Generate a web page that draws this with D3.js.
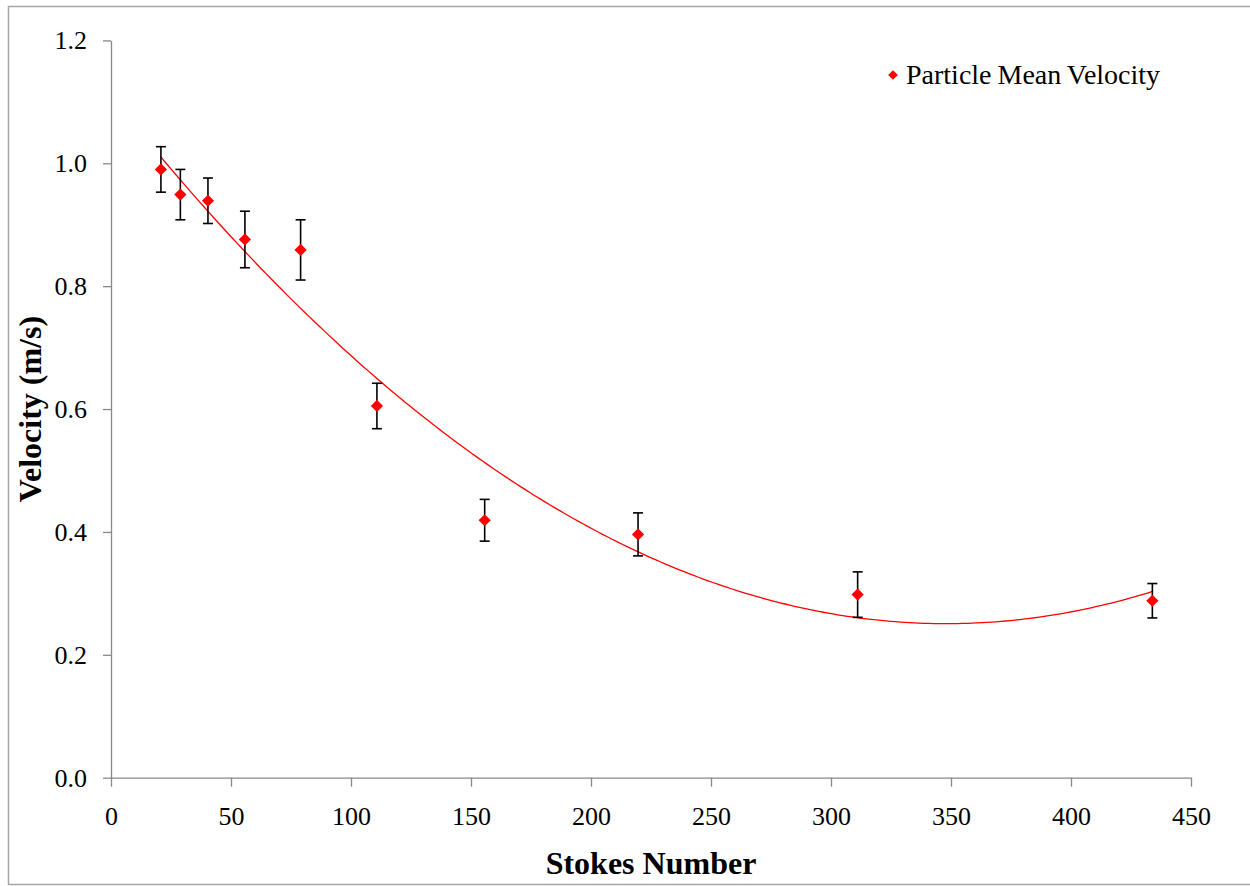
<!DOCTYPE html>
<html>
<head>
<meta charset="utf-8">
<script src="https://cdn.jsdelivr.net/npm/d3@7"></script>
<style>
  body { margin: 0; background: #fff; }
  text { font-family: "Times New Roman", "Liberation Serif", Times, serif; fill: #000; }
</style>
</head>
<body>
<svg id="chart" width="1250" height="886"></svg>
<script>
// data
var stokes   = [20.8, 28.9, 40.4, 55.8, 79.0, 110.8, 155.7, 219.6, 311.1, 433.9];
var velocity = [0.990, 0.949, 0.939, 0.876, 0.859, 0.605, 0.419, 0.396, 0.298, 0.288];
var errHalf  = [0.037, 0.041, 0.037, 0.046, 0.049, 0.037, 0.034, 0.035, 0.037, 0.028];
var xTicks = [0, 50, 100, 150, 200, 250, 300, 350, 400, 450];
var yTicks = [0.0, 0.2, 0.4, 0.6, 0.8, 1.0, 1.2];
var seriesName = "Particle Mean Velocity";

var svg = d3.select("#chart");
var axisColor = "#898989";
var serif = "'Times New Roman', 'Liberation Serif', Times, serif";

// outer chart frame
svg.append("rect")
    .attr("x", 8.5).attr("y", 6.5)
    .attr("width", 1260).attr("height", 878)
    .style("fill", "none").style("stroke", "#a6a6a6").style("stroke-width", 1.5);

var x = d3.scaleLinear().domain([0, 450]).range([111, 1191]);
var y = d3.scaleLinear().domain([0, 1.2]).range([777.7, 40.4]);

// axes
var xAxis = svg.append("g")
    .attr("transform", "translate(0," + y(0) + ")")
    .call(d3.axisBottom(x).tickValues(xTicks).tickSize(9).tickSizeOuter(0).tickPadding(20).tickFormat(d3.format("d")));
var yAxis = svg.append("g")
    .attr("transform", "translate(" + x(0) + ",0)")
    .call(d3.axisLeft(y).tickValues(yTicks).tickSize(8).tickSizeOuter(0).tickPadding(16).tickFormat(d3.format(".1f")));

[xAxis, yAxis].forEach(function(a) {
    a.attr("font-family", serif);
    a.select(".domain").style("stroke", axisColor).style("stroke-width", 1.3);
    a.selectAll(".tick line").style("stroke", axisColor).style("stroke-width", 1.3);
    a.selectAll(".tick text")
        .attr("font-family", serif)
        .style("font-family", serif)
        .style("font-size", "26px")
        .style("fill", "#000");
});

// axis titles
svg.append("text")
    .attr("x", (x(0) + x(450)) / 2).attr("y", 874)
    .attr("text-anchor", "middle")
    .style("font-family", serif)
    .style("font-size", "32px").style("font-weight", "bold")
    .text("Stokes Number");
svg.append("text")
    .attr("transform", "translate(41," + (y(0) + y(1.2)) / 2 + ") rotate(-90)")
    .attr("text-anchor", "middle")
    .style("font-family", serif)
    .style("font-size", "32px").style("font-weight", "bold")
    .text("Velocity (m/s)");

// 2nd order polynomial trendline (least squares, like the spreadsheet does)
function polyFit2(xs, ys) {
    var n = xs.length, s = [0, 0, 0, 0, 0], t = [0, 0, 0];
    for (var i = 0; i < n; i++) {
        var p = 1;
        for (var k = 0; k < 5; k++) { s[k] += p; if (k < 3) t[k] += p * ys[i]; p *= xs[i]; }
    }
    var M = [[s[0], s[1], s[2], t[0]], [s[1], s[2], s[3], t[1]], [s[2], s[3], s[4], t[2]]];
    for (var c = 0; c < 3; c++) {
        for (var r = c + 1; r < 3; r++) {
            var f = M[r][c] / M[c][c];
            for (var j = c; j < 4; j++) M[r][j] -= f * M[c][j];
        }
    }
    var b = [0, 0, 0];
    for (var r2 = 2; r2 >= 0; r2--) {
        var sum = M[r2][3];
        for (var j2 = r2 + 1; j2 < 3; j2++) sum -= M[r2][j2] * b[j2];
        b[r2] = sum / M[r2][r2];
    }
    return b;
}
var coef = polyFit2(stokes, velocity);
var xs = d3.range(d3.min(stokes), d3.max(stokes), 2).concat([d3.max(stokes)]);
var line = d3.line()
    .x(function(d) { return x(d); })
    .y(function(d) { return y(coef[0] + coef[1] * d + coef[2] * d * d); });
svg.append("path")
    .datum(xs)
    .attr("d", line)
    .style("fill", "none").style("stroke", "#ff0000").style("stroke-width", 1.3);

var pts = stokes.map(function(s, i) { return { s: s, v: velocity[i], e: errHalf[i] }; });

// error bars
var eb = svg.append("g").selectAll("g.err")
    .data(pts).enter().append("g").attr("class", "err")
    .style("stroke", "#000").style("stroke-width", 1.6);
eb.append("line")
    .attr("x1", function(d) { return x(d.s); }).attr("x2", function(d) { return x(d.s); })
    .attr("y1", function(d) { return y(d.v + d.e); }).attr("y2", function(d) { return y(d.v - d.e); });
eb.append("line")
    .attr("x1", function(d) { return x(d.s) - 5; }).attr("x2", function(d) { return x(d.s) + 5; })
    .attr("y1", function(d) { return y(d.v + d.e); }).attr("y2", function(d) { return y(d.v + d.e); });
eb.append("line")
    .attr("x1", function(d) { return x(d.s) - 5; }).attr("x2", function(d) { return x(d.s) + 5; })
    .attr("y1", function(d) { return y(d.v - d.e); }).attr("y2", function(d) { return y(d.v - d.e); });

// markers
var diamond = d3.symbol().type(d3.symbolDiamond2).size(95);
svg.append("g").selectAll("path.pt")
    .data(pts).enter().append("path").attr("class", "pt")
    .attr("transform", function(d) { return "translate(" + x(d.s) + "," + y(d.v) + ")"; })
    .attr("d", diamond)
    .style("fill", "#ff0000");

// legend
var lg = svg.append("g").attr("transform", "translate(893,75)");
lg.append("path")
    .attr("d", d3.symbol().type(d3.symbolDiamond2).size(60))
    .style("fill", "#ff0000");
lg.append("text")
    .attr("x", 13).attr("y", 9)
    .style("font-family", serif)
    .style("font-size", "28px")
    .style("word-spacing", "-1px")
    .text(seriesName);
</script>
</body>
</html>
